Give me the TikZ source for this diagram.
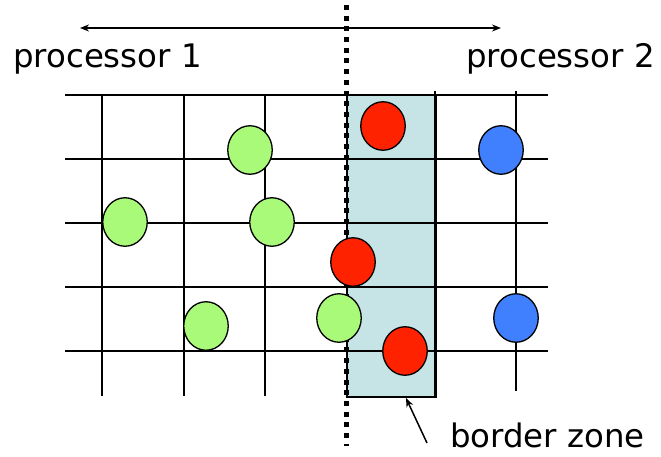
\documentclass[tikz,border=0pt]{standalone}
\usepackage{fontspec}
\setmainfont{DejaVu Sans}
\usetikzlibrary{arrows.meta,shapes.geometric}
\definecolor{zonefill}{RGB}{198,228,230}
\definecolor{pgreen}{RGB}{170,250,122}
\definecolor{pred}{RGB}{255,34,0}
\definecolor{pblue}{RGB}{64,128,255}
\tikzset{
  gridline/.style={line width=1.5pt, black},
  particle/.style={ellipse, draw=black, line width=1.3pt, minimum width=44.5pt, minimum height=48.5pt, inner sep=0pt},
  label/.style={inner sep=0pt, font=\fontsize{32.4}{38}\selectfont},
  tip/.style={-{Stealth[length=9pt,width=7pt]}}
}
\begin{document}
\begin{tikzpicture}[x=1pt,y=-1pt]
\useasboundingbox (0,0) rectangle (661,457);
% border zone
\node[draw=black, line width=1.5pt, fill=zonefill, minimum width=89pt, minimum height=301pt, inner sep=0pt, anchor=north west] (zone) at (346,95) {};
% grid
\foreach \yy [count=\i] in {95,159,223,287,351} {
  \coordinate (hl\i) at (65,\yy);
  \coordinate (hr\i) at (548,\yy);
  \draw[gridline] (hl\i) -- (hr\i);
}
\foreach \xx/\t/\b [count=\i] in {102/96/396,184/96/396,265/96/396,435/91/396,516/91/391} {
  \coordinate (vt\i) at (\xx,\t);
  \coordinate (vb\i) at (\xx,\b);
  \draw[gridline] (vt\i) -- (vb\i);
}
% dotted processor boundary
\coordinate (dtop) at (346,5);
\coordinate (dbot) at (346,446);
\draw[line width=5pt, dash pattern=on 5pt off 5.7pt] (dtop) -- (dbot);
% particles
\node[particle, fill=pgreen] (g1) at (250,150) {};
\node[particle, fill=pgreen] (g2) at (125,222) {};
\node[particle, fill=pgreen] (g3) at (272,222) {};
\node[particle, fill=pgreen] (g4) at (206,326) {};
\node[particle, fill=pgreen] (g5) at (339,318) {};
\node[particle, fill=pred] (r1) at (383,126) {};
\node[particle, fill=pred] (r2) at (353,262) {};
\node[particle, fill=pred] (r3) at (405,351) {};
\node[particle, fill=pblue] (b1) at (501,150) {};
\node[particle, fill=pblue] (b2) at (516,318) {};
% top arrow
\coordinate (al) at (80,28);
\coordinate (ar) at (501,28);
\draw[line width=1.5pt, {Stealth[length=9pt,width=7pt]}-{Stealth[length=9pt,width=7pt]}] (al) -- (ar);
% labels
\node[label, anchor=base west] (p1) at (13,67.5) {processor 1};
\node[label, anchor=base west] (p2) at (466,67.5) {processor 2};
\node[label, anchor=base west] (bz) at (450,447) {border zone};
% border zone pointer
\coordinate (bzt) at (427,443);
\coordinate (bzh) at (406,398);
\draw[line width=1.5pt, tip] (bzt) -- (bzh);
\end{tikzpicture}
\end{document}
